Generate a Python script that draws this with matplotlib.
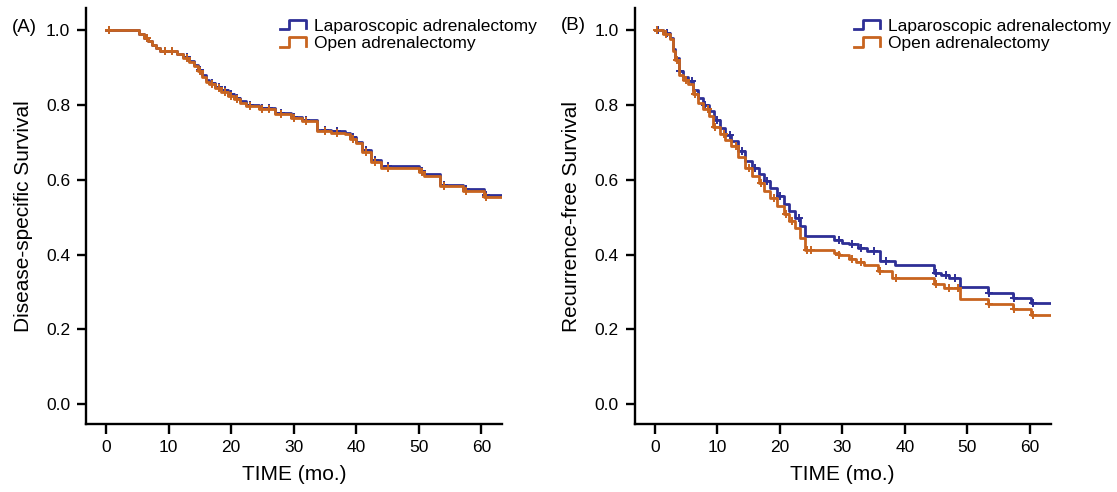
import numpy as np
import matplotlib
matplotlib.use("Agg")
import matplotlib.pyplot as plt
from matplotlib.lines import Line2D
from matplotlib.legend_handler import HandlerBase

plt.rcParams['font.family'] = ['Liberation Sans', 'DejaVu Sans']

#%% data (months, survival)
follow_end = 63.3

# (A) disease-specific survival
dss_time = [0, 5.3, 6.0, 6.7, 7.4, 8.0, 8.7, 11.3, 12.3, 13.3, 14.0, 14.7, 15.3, 16.0, 16.4,
            17.4, 18.4, 19.5, 20.5, 21.4, 22.4, 24.5, 27.0, 29.5, 31.4, 33.8, 36.0, 38.2,
            39.0, 40.0, 41.0, 42.3, 44.0, 50.0, 50.8, 53.4, 57.0, 60.4]
dss_lap = [1.0, 0.99, 0.98, 0.97, 0.96, 0.952, 0.944, 0.937, 0.928, 0.918, 0.908, 0.894, 0.879,
           0.866, 0.859, 0.849, 0.839, 0.829, 0.819, 0.810, 0.801, 0.792, 0.779, 0.769, 0.761,
           0.734, 0.729, 0.725, 0.714, 0.702, 0.679, 0.652, 0.636, 0.624, 0.614, 0.587, 0.574, 0.560]
dss_open = [1.0, 0.99, 0.98, 0.97, 0.96, 0.952, 0.944, 0.935, 0.925, 0.915, 0.905, 0.89, 0.875,
            0.862, 0.855, 0.845, 0.835, 0.825, 0.815, 0.806, 0.797, 0.788, 0.775, 0.765, 0.757,
            0.730, 0.725, 0.721, 0.71, 0.698, 0.675, 0.648, 0.632, 0.62, 0.610, 0.583, 0.570, 0.555]
dss_cens = [0.5, 6.5, 9.5, 10.5, 13.0, 15.0, 17.0, 18.0, 19.0, 20.0, 21.0, 23.0, 25.0, 26.0,
            28.0, 30.0, 32.0, 35.0, 37.0, 39.5, 41.5, 43.0, 45.0, 50.5, 54.0, 57.5, 60.8]

# (B) recurrence-free survival
rfs_time_lap = [0, 1.3, 2.5, 3.0, 3.3, 3.9, 4.5, 5.3, 6.2, 7.0, 7.8, 8.7, 9.5, 10.4, 11.3,
                12.2, 13.3, 14.4, 15.5, 16.7, 17.5, 18.4, 19.5, 20.7, 21.5, 22.4, 23.2, 24.1,
                28.7, 30.0, 31.0, 32.5, 33.9, 36.0, 38.4, 44.6, 45.8, 47.0, 48.8, 53.3, 57.3, 60.1]
rfs_lap = [1.0, 0.993, 0.98, 0.95, 0.926, 0.89, 0.876, 0.864, 0.84, 0.819, 0.80, 0.783, 0.76,
           0.739, 0.72, 0.703, 0.676, 0.65, 0.632, 0.615, 0.597, 0.578, 0.556, 0.535, 0.516,
           0.498, 0.476, 0.449, 0.440, 0.432, 0.427, 0.418, 0.409, 0.382, 0.372, 0.351, 0.345,
           0.338, 0.313, 0.298, 0.284, 0.271]
rfs_cens_lap = [0.5, 2.0, 4.0, 6.0, 8.0, 10.0, 12.0, 14.0, 16.0, 18.0, 20.0, 23.0, 29.5, 31.5,
                33.0, 35.0, 37.0, 45.0, 46.5, 48.0, 53.5, 57.5, 60.5]

rfs_time_open = [0, 1.3, 2.5, 3.0, 3.3, 3.9, 4.5, 5.3, 6.2, 7.0, 7.8, 8.7, 9.3, 10.4, 11.3,
                 12.2, 13.3, 14.4, 15.5, 16.7, 17.5, 18.4, 19.5, 20.7, 21.5, 22.4, 23.2, 24.1,
                 28.7, 29.5, 31.0, 32.2, 33.4, 35.7, 38.0, 44.6, 46.3, 48.8, 53.3, 57.3, 60.1]
rfs_open = [1.0, 0.99, 0.975, 0.945, 0.92, 0.88, 0.866, 0.855, 0.83, 0.806, 0.788, 0.77, 0.74,
            0.722, 0.705, 0.69, 0.66, 0.632, 0.61, 0.59, 0.57, 0.551, 0.53, 0.508, 0.49, 0.471,
            0.445, 0.411, 0.405, 0.40, 0.387, 0.38, 0.373, 0.356, 0.338, 0.32, 0.311, 0.28,
            0.267, 0.253, 0.238]
rfs_cens_open = [0.3, 1.8, 3.5, 5.0, 6.5, 8.5, 9.6, 11.0, 13.0, 15.0, 17.0, 19.0, 21.0, 22.0,
                 24.3, 25.0, 29.5, 31.5, 33.0, 36.0, 38.5, 45.0, 47.0, 48.5, 53.5, 57.5, 60.5]

labels = ['Laparoscopic adrenalectomy', 'Open adrenalectomy']
c_lap = '#2e2f96'
c_open = '#c8641f'


class StepHandler(HandlerBase):
    # little step-shaped legend key
    def create_artists(self, legend, orig_handle, xdescent, ydescent, width, height, fontsize, trans):
        xs = np.array([0, 0.35, 0.35, 1.0, 1.0]) * width - xdescent
        ys = np.array([0.1, 0.1, 0.9, 0.9, 0.2]) * height - ydescent
        ln = Line2D(xs, ys, color=orig_handle.get_color(), lw=orig_handle.get_linewidth())
        ln.set_transform(trans)
        return [ln]


def km(ax, t, s, cens, color):
    t = np.append(t, follow_end)
    s = np.append(s, s[-1])
    line, = ax.step(t, s, where='post', color=color, lw=2.0)
    idx = np.searchsorted(t, cens, side='right') - 1
    ax.plot(cens, s[idx], ls='none', marker='+', ms=6, mew=1.4, color=color)
    return line


def style(ax, ylabel, leg_x, handles):
    ax.set_xlim(-3.2, follow_end)
    ax.set_ylim(-0.054, 1.059)
    ax.set_xticks(range(0, 61, 10))
    ax.set_yticks([0, 0.2, 0.4, 0.6, 0.8, 1.0])
    ax.set_yticklabels(['0.0', '0.2', '0.4', '0.6', '0.8', '1.0'])
    for sp in ['top', 'right']:
        ax.spines[sp].set_visible(False)
    for sp in ['left', 'bottom']:
        ax.spines[sp].set_linewidth(1.7)
    ax.tick_params(axis='x', length=7, width=1.7, pad=4, labelsize=12.5)
    ax.tick_params(axis='y', length=6.3, width=1.7, pad=5, labelsize=12.5)
    ax.set_xlabel('TIME (mo.)', fontsize=15)
    ax.set_ylabel(ylabel, fontsize=15)
    ax.xaxis.set_label_coords(0.5, -0.098)
    ax.yaxis.set_label_coords(-0.128, 0.5)
    ax.legend(handles, labels, loc='upper left', bbox_to_anchor=(leg_x, 0.975),
              frameon=False, fontsize=12.5, borderpad=0, borderaxespad=0,
              handlelength=1.5, handletextpad=0.45, labelspacing=0.15,
              handler_map={Line2D: StepHandler()})


fig = plt.figure(figsize=(11.17, 4.92), dpi=100)
axA = fig.add_axes([0.0770, 0.1376, 0.3724, 0.846])
axB = fig.add_axes([0.5682, 0.1376, 0.3724, 0.846])

hA = [km(axA, dss_time, dss_lap, dss_cens, c_lap),
      km(axA, dss_time, dss_open, dss_cens, c_open)]
style(axA, 'Disease-specific Survival', 0.466, hA)

hB = [km(axB, rfs_time_lap, rfs_lap, rfs_cens_lap, c_lap),
      km(axB, rfs_time_open, rfs_open, rfs_cens_open, c_open)]
style(axB, 'Recurrence-free Survival', 0.527, hB)

fig.text(11.5 / 1117, 1 - 27.5 / 492, '(A)', fontsize=13.5, va='center', ha='left')
fig.text(561 / 1117, 1 - 26 / 492, '(B)', fontsize=13.5, va='center', ha='left')

fig.savefig('out.png', dpi=100)
